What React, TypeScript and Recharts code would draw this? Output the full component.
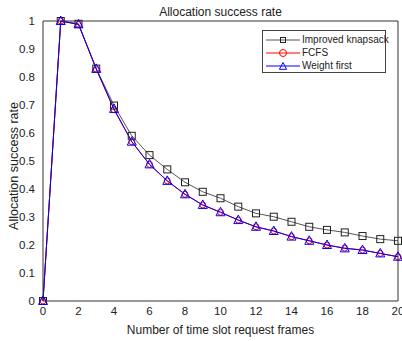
import React from "react";
import { LineChart, Line, XAxis, YAxis } from "recharts";

// Number of time slot request frames
const frames = [0, 1, 2, 3, 4, 5, 6, 7, 8, 9, 10, 11, 12, 13, 14, 15, 16, 17, 18, 19, 20];

// Allocation success rate per strategy
const improvedKnapsack = [0, 1.0, 0.99, 0.83, 0.698, 0.59, 0.521, 0.47, 0.424, 0.39, 0.367, 0.337, 0.313, 0.301, 0.283, 0.265, 0.254, 0.245, 0.232, 0.221, 0.215];
const fcfs = [0, 1.0, 0.988, 0.828, 0.683, 0.569, 0.488, 0.429, 0.381, 0.343, 0.317, 0.289, 0.265, 0.25, 0.23, 0.215, 0.2, 0.189, 0.182, 0.17, 0.158];
const weightFirst = [0, 1.0, 0.988, 0.829, 0.686, 0.569, 0.488, 0.429, 0.381, 0.343, 0.317, 0.289, 0.265, 0.25, 0.23, 0.215, 0.2, 0.188, 0.182, 0.17, 0.158];

const xTicks = [0, 2, 4, 6, 8, 10, 12, 14, 16, 18, 20];
const yTicks = [0, 0.1, 0.2, 0.3, 0.4, 0.5, 0.6, 0.7, 0.8, 0.9, 1];

const seriesNames = ["Improved knapsack", "FCFS", "Weight first"];

const data = frames.map((f, i) => ({
  frame: f,
  knapsack: improvedKnapsack[i],
  fcfs: fcfs[i],
  weight: weightFirst[i],
}));

const FONT = "'Liberation Sans', Arial, sans-serif";
const AXIS = "#333";
const TEXT = "#222";

// marker shapes, MATLAB style
function Square(props: any) {
  const { cx, cy, s = 7 } = props;
  if (cx == null || cy == null) return null;
  return <rect x={cx - s / 2} y={cy - s / 2} width={s} height={s} fill="none" stroke="#222" strokeWidth={1} />;
}
function Circle(props: any) {
  const { cx, cy, r = 4 } = props;
  if (cx == null || cy == null) return null;
  return <circle cx={cx} cy={cy} r={r} fill="none" stroke="#ff0000" strokeWidth={1} />;
}
function Triangle(props: any) {
  const { cx, cy, k = 1 } = props;
  if (cx == null || cy == null) return null;
  return (
    <polygon
      points={`${cx},${cy - 5 * k} ${cx - 4.5 * k},${cy + 3.5 * k} ${cx + 4.5 * k},${cy + 3.5 * k}`}
      fill="none"
      stroke="#0000ff"
      strokeWidth={1}
    />
  );
}

function LegendBox() {
  const rows = [
    { name: seriesNames[0], color: "#555", mark: "sq" },
    { name: seriesNames[1], color: "#ff0000", mark: "ci" },
    { name: seriesNames[2], color: "#0000ff", mark: "tr" },
  ];
  return (
    <div
      style={{
        position: "absolute",
        left: 262,
        top: 30,
        width: 124,
        height: 43,
        border: "1px solid #444",
        background: "#fff",
        fontFamily: FONT,
        fontSize: 10,
        color: TEXT,
        paddingTop: 2,
        boxSizing: "border-box",
        whiteSpace: "nowrap",
      }}
    >
      {rows.map((r) => (
        <div key={r.name} style={{ display: "flex", alignItems: "center", height: 13 }}>
          <svg width={36} height={12} style={{ marginLeft: 3, flex: "none" }}>
            <line x1={0} y1={6} x2={34} y2={6} stroke={r.color} strokeWidth={1} />
            {r.mark === "sq" && <Square cx={17} cy={6} s={5} />}
            {r.mark === "ci" && <Circle cx={17} cy={6} r={3.5} />}
            {r.mark === "tr" && <Triangle cx={17} cy={6.5} k={0.8} />}
          </svg>
          <span style={{ marginLeft: 0 }}>{r.name}</span>
        </div>
      ))}
    </div>
  );
}

export default function App() {
  return (
    <div
      style={{
        position: "fixed",
        left: 0,
        top: 0,
        width: 402,
        height: 341,
        overflow: "hidden",
        background: "#fff",
        fontFamily: FONT,
      }}
    >
      <div
        style={{
          position: "absolute",
          left: 43,
          top: 5,
          width: 355,
          textAlign: "center",
          fontSize: 12,
          lineHeight: "14px",
          color: TEXT,
        }}
      >
        Allocation success rate
      </div>
      <div
        style={{
          position: "absolute",
          left: 14,
          top: 166,
          transform: "translate(-50%, -50%) rotate(-90deg)",
          whiteSpace: "nowrap",
          fontSize: 12.5,
          color: TEXT,
        }}
      >
        Allocation success rate
      </div>
      <LineChart
        width={420}
        height={341}
        data={data}
        margin={{ top: 21, right: 22, left: 0, bottom: 0 }}
        style={{ position: "absolute", left: 0, top: 0 }}
      >
        {/* bottom axis with labels */}
        <XAxis
          dataKey="frame"
          type="number"
          domain={[0, 20]}
          ticks={xTicks}
          interval={0}
          height={40}
          tickSize={0}
          tickMargin={6}
          tickLine={false}
          axisLine={{ stroke: AXIS }}
          tick={{ fill: TEXT, fontSize: 11.5, fontFamily: FONT }}
          label={{
            value: "Number of time slot request frames",
            position: "insideBottom",
            offset: 7,
            fill: TEXT,
            fontSize: 12,
            fontFamily: FONT,
          }}
        />
        {/* inward ticks on bottom */}
        <XAxis
          xAxisId="bm"
          dataKey="frame"
          type="number"
          domain={[0, 20]}
          ticks={xTicks}
          interval={0}
          orientation="bottom"
          mirror
          tick={false}
          tickSize={4}
          axisLine={false}
          tickLine={{ stroke: AXIS }}
        />
        {/* top box edge */}
        <XAxis
          xAxisId="top"
          dataKey="frame"
          type="number"
          domain={[0, 20]}
          ticks={xTicks}
          interval={0}
          orientation="top"
          mirror
          tick={false}
          tickSize={4}
          axisLine={{ stroke: AXIS }}
          tickLine={{ stroke: AXIS }}
        />
        {/* left axis with labels */}
        <YAxis
          type="number"
          domain={[0, 1]}
          ticks={yTicks}
          interval={0}
          width={43}
          tickSize={0}
          tickMargin={8}
          tickLine={false}
          axisLine={{ stroke: AXIS }}
          tick={{ fill: TEXT, fontSize: 11.5, fontFamily: FONT }}
        />
        <YAxis
          yAxisId="lm"
          type="number"
          domain={[0, 1]}
          ticks={yTicks}
          interval={0}
          orientation="left"
          mirror
          tick={false}
          tickSize={4}
          axisLine={false}
          tickLine={{ stroke: AXIS }}
        />
        <YAxis
          yAxisId="right"
          type="number"
          domain={[0, 1]}
          ticks={yTicks}
          interval={0}
          orientation="right"
          mirror
          tick={false}
          tickSize={4}
          axisLine={{ stroke: AXIS }}
          tickLine={{ stroke: AXIS }}
        />
        <Line
          dataKey="knapsack"
          name={seriesNames[0]}
          stroke="#555"
          strokeWidth={1}
          dot={<Square />}
          activeDot={false}
          isAnimationActive={false}
        />
        <Line
          dataKey="fcfs"
          name={seriesNames[1]}
          stroke="#ff0000"
          strokeWidth={1}
          dot={<Circle />}
          activeDot={false}
          isAnimationActive={false}
        />
        <Line
          dataKey="weight"
          name={seriesNames[2]}
          stroke="#0000ff"
          strokeWidth={1}
          dot={<Triangle />}
          activeDot={false}
          isAnimationActive={false}
        />
      </LineChart>
      <LegendBox />
    </div>
  );
}
